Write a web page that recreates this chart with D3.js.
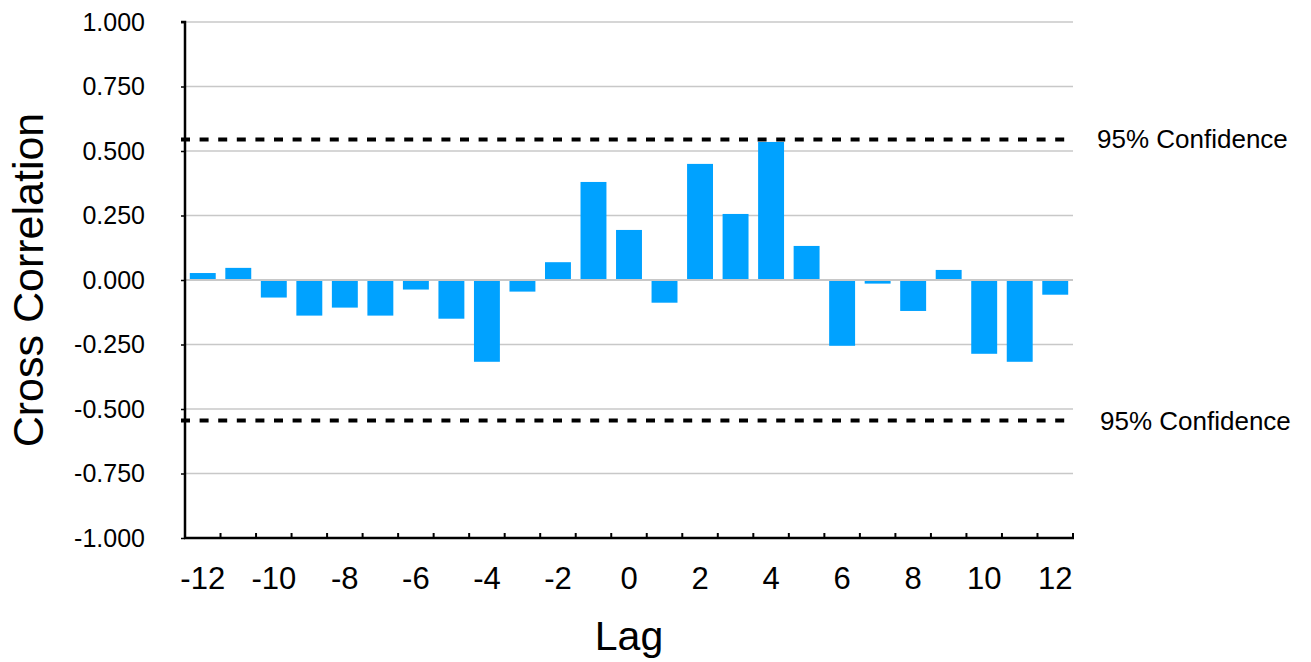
<!DOCTYPE html>
<html>
<head>
<meta charset="utf-8">
<script src="https://cdn.jsdelivr.net/npm/d3@7"></script>
<style>
  html, body { margin: 0; padding: 0; background: #fff; }
  svg { display: block; font-family: "Liberation Sans", Arial, Helvetica, sans-serif; }
</style>
</head>
<body>
<svg id="chart" width="1311" height="662"></svg>
<script>
const lags = [-12,-11,-10,-9,-8,-7,-6,-5,-4,-3,-2,-1,0,1,2,3,4,5,6,7,8,9,10,11,12];
const correlations = [0.027,0.047,-0.068,-0.138,-0.107,-0.138,-0.037,-0.150,-0.317,-0.045,0.069,
  0.380,0.194,-0.088,0.450,0.256,0.535,0.132,-0.255,-0.014,-0.120,0.039,-0.286,-0.317,-0.057];
const xTickLabels = [-12,-10,-8,-6,-4,-2,0,2,4,6,8,10,12];
const yTicks = [1.0,0.75,0.5,0.25,0.0,-0.25,-0.5,-0.75,-1.0];
const confidenceLevels = [0.545,-0.545];
const confidenceLabel = "95% Confidence";

const svg = d3.select("#chart");
const pLeft = 185, pRight = 1073, pTop = 22, pBottom = 538;

const x = d3.scaleBand().domain(lags).range([pLeft, pRight]).paddingInner(0.27).paddingOuter(0.135);
const xb = d3.scaleBand().domain(lags).range([pLeft, pRight]).padding(0);
const y = d3.scaleLinear().domain([-1, 1]).range([pBottom, pTop]);

const fmt3 = d => d3.format(".3f")(d).replace("\u2212", "-");

// gridlines
svg.append("g").selectAll("line").data(yTicks).join("line")
  .attr("x1", pLeft).attr("x2", pRight)
  .attr("y1", d => y(d)).attr("y2", d => y(d))
  .attr("stroke", "#c8c8c8").attr("stroke-width", 1.5);

// bars
svg.append("g").selectAll("rect").data(lags.map((l, i) => ({l, v: correlations[i]}))).join("rect")
  .attr("x", d => x(d.l))
  .attr("width", x.bandwidth())
  .attr("y", d => d.v >= 0 ? y(d.v) : y(0))
  .attr("height", d => Math.abs(y(d.v) - y(0)))
  .attr("fill", "#00a2ff");

// zero line on top
svg.append("line").attr("x1", pLeft).attr("x2", pRight)
  .attr("y1", y(0)).attr("y2", y(0))
  .attr("stroke", "#c8c8c8").attr("stroke-width", 2);

// y axis
const yAxis = d3.axisLeft(y).tickValues(yTicks).tickFormat(fmt3).tickSize(4).tickPadding(36);
const gy = svg.append("g").attr("transform", `translate(${pLeft},0)`).call(yAxis);
gy.select(".domain").attr("stroke", "#000").attr("stroke-width", 2.5).attr("d", `M-4,${pTop}H0V${pBottom}`);
gy.selectAll(".tick line").attr("stroke", "#000").attr("stroke-width", 1.5);
gy.selectAll(".tick text").attr("font-size", 25).attr("fill", "#000")
  .attr("font-family", "Liberation Sans, Arial, sans-serif");

// x axis
const gx = svg.append("g").attr("transform", `translate(0,${pBottom})`);
gx.append("line").attr("x1", pLeft - 1).attr("x2", pRight + 1).attr("y1", 0).attr("y2", 0)
  .attr("stroke", "#000").attr("stroke-width", 2.5);
gx.selectAll("line.tk").data(lags.slice(1).concat(["end"])).join("line").attr("class", "tk")
  .attr("x1", d => d === "end" ? pRight : xb(d)).attr("x2", d => d === "end" ? pRight : xb(d))
  .attr("y1", 0).attr("y2", -5)
  .attr("stroke", "#000").attr("stroke-width", 2);
gx.selectAll("text").data(xTickLabels).join("text")
  .attr("x", d => xb(d) + xb.bandwidth() / 2)
  .attr("y", 51)
  .attr("text-anchor", "middle")
  .attr("font-size", 31)
  .text(d => String(d));

// confidence lines
svg.append("g").selectAll("line").data(confidenceLevels).join("line")
  .attr("x1", pLeft - 4).attr("x2", pRight)
  .attr("y1", d => y(d)).attr("y2", d => y(d))
  .attr("stroke", "#000").attr("stroke-width", 4)
  .attr("stroke-dasharray", "9,9.6");

svg.append("g").selectAll("text").data(confidenceLevels).join("text")
  .attr("x", (d, i) => i === 0 ? 1097 : 1100)
  .attr("y", d => y(d) + 9)
  .attr("font-size", 26)
  .text(confidenceLabel);

// axis titles
svg.append("text").attr("x", (pLeft + pRight) / 2).attr("y", 650)
  .attr("text-anchor", "middle").attr("font-size", 41).text("Lag");
svg.append("text").attr("transform", `translate(43,${(pTop + pBottom) / 2}) rotate(-90)`)
  .attr("text-anchor", "middle").attr("font-size", 43).text("Cross Correlation");
</script>
</body>
</html>
